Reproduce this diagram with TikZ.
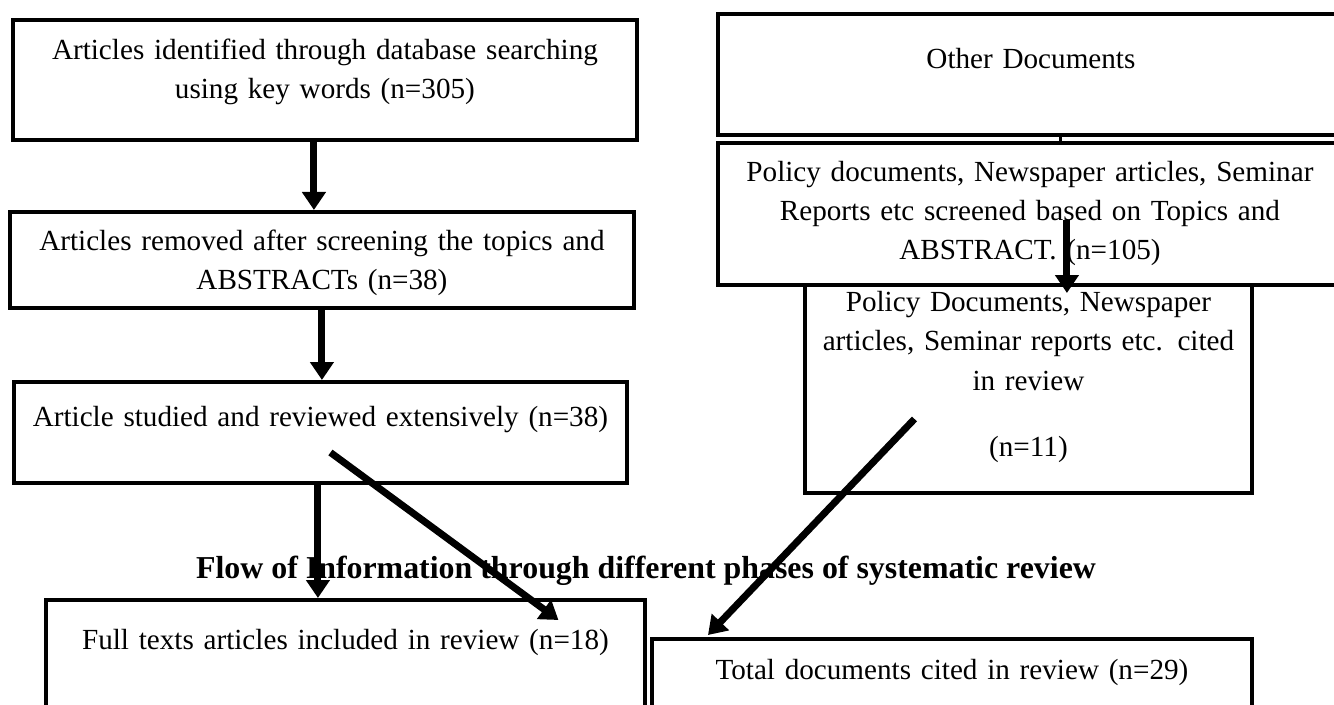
\documentclass[tikz,border=0pt]{standalone}
\usepackage{fontspec}
\setmainfont{Liberation Serif}
\usetikzlibrary{arrows.meta,calc}
\tikzset{
  box/.style={draw, line width=0.08cm, inner sep=0pt, anchor=north west, align=center,
    font=\fontsize{16.6}{22.2}\selectfont},
  flow/.style={line width=0.14cm, -{Triangle[width=0.46cm,length=0.36cm]}},
  heading/.style={font=\fontsize{18.15}{22}\selectfont\bfseries, anchor=base}
}
\begin{document}
\begin{tikzpicture}[x=0.02cm,y=-0.02cm]
\useasboundingbox (0,0) rectangle (1334,705);
% left column
\node[box, text width=12.48cm, text height=0.8cm, text depth=1.6cm] (ident) at (11,18)
  {Articles identified through database searching\\using key words (n=305)};
\node[box, text width=12.48cm, text height=0.78cm, text depth=1.14cm] (removed) at (8,210)
  {Articles removed after screening the topics and\\ABSTRACTs (n=38)};
\node[box, text width=12.26cm, text height=0.9cm, text depth=1.12cm] (studied) at (12,380)
  {Article studied and reviewed extensively (n=38)};
\node[box, text width=11.98cm, text height=1.0cm, text depth=1.84cm] (fulltext) at (44,598)
  {Full texts articles included in review (n=18)};
% right column
\node[box, text width=12.52cm, text height=1.1cm, text depth=1.32cm] (other) at (716,12)
  {Other Documents};
\node[box, text width=12.48cm, text height=0.78cm, text depth=2.06cm] (screened) at (716,141)
  {Policy documents, Newspaper articles, Seminar\\Reports etc screened based on Topics and\\ABSTRACT. (n=105)};
\node[box, text width=8.94cm, text height=0.54cm, text depth=3.62cm] (cited) at (803,283)
  {Policy Documents, Newspaper\\articles, Seminar reports etc. cited\\in review\\[0.54cm](n=11)};
\node[box, text width=12cm, text height=0.82cm, text depth=1.24cm] (total) at (650,637)
  {Total documents cited in review (n=29)};
\node[heading] (title) at (646,578)
  {Flow of Information through different phases of systematic review};
% arrows
\draw[flow] ([xshift=-0.22cm]ident.south) -- ([xshift=-0.22cm]ident.south |- removed.north);
\draw[flow] (removed.south) -- (removed.south |- studied.north);
\draw[flow] ([xshift=-0.05cm]studied.south) -- ([xshift=-0.05cm]studied.south |- fulltext.north);
\draw[flow] ($(studied.center)+(10,20)$) -- ($(fulltext.north)+(213,22)$);
\draw[line width=0.06cm] ([xshift=0.6cm]other.south) -- ([xshift=0.6cm]other.south |- screened.north);
\coordinate (hf) at ($(screened.center)+(37,6)$);
\draw[flow] (hf) -- ($(hf |- cited.north)+(0,10)$);
\draw[flow] ($(cited.center)+(-114,30)$) -- ($(total.north west)+(58,-2)$);
\end{tikzpicture}
\end{document}
